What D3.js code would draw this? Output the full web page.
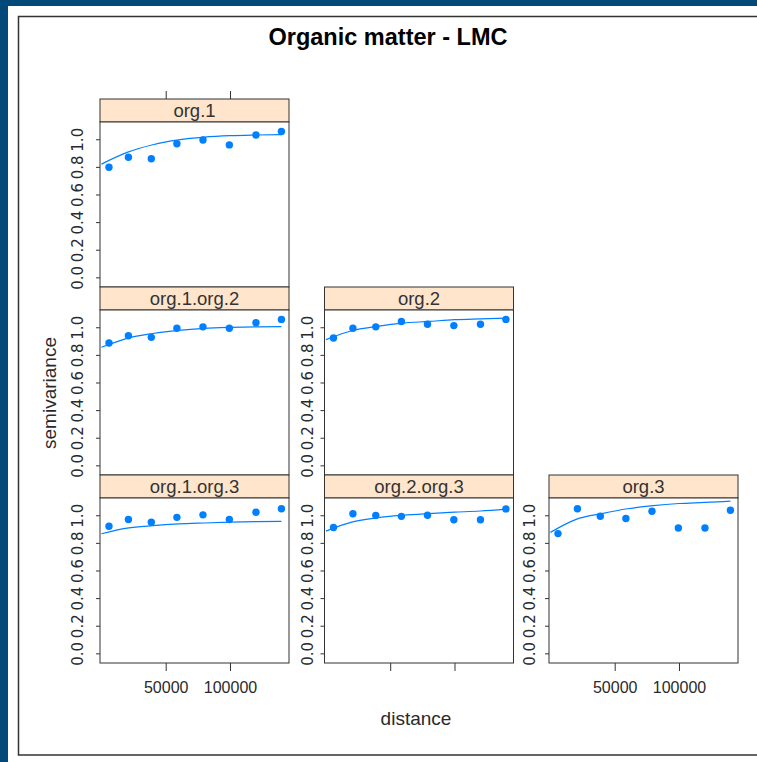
<!DOCTYPE html>
<html>
<head>
<meta charset="utf-8">
<script src="https://cdn.jsdelivr.net/npm/d3@7"></script>
<style>
	body { margin: 0; background: #ffffff; }
	svg { display: block; }
	.strip-label { font-family: 'Liberation Sans', Arial, sans-serif; font-size: 18.5px; fill: #333; }
	.tick-label { font-family: 'Liberation Sans', Arial, sans-serif; font-size: 16px; fill: #2a2a2a; }
	.ytick-label { font-family: 'DejaVu Sans', sans-serif; font-size: 15px; fill: #2a2a2a; }
	.axis-label { font-family: 'Liberation Sans', Arial, sans-serif; font-size: 19px; fill: #2a2a2a; }
	.title { font-family: 'Liberation Sans', Arial, sans-serif; font-size: 23.5px; font-weight: bold; fill: #000; }
</style>
</head>
<body>
<svg width="757" height="762"></svg>
<script>
// sample variogram (binned distances shared by all panels)
const distances = [5900, 21000, 38800, 58700, 79000, 99500, 120200, 140000];
const gammaOrg1 = [0.797, 0.870, 0.859, 0.968, 0.995, 0.959, 1.031, 1.056];
const gammaOrg1Org2 = [0.886, 0.939, 0.927, 0.993, 1.003, 0.993, 1.033, 1.057];
const gammaOrg2 = [0.922, 0.993, 1.003, 1.042, 1.022, 1.012, 1.022, 1.057];
const gammaOrg1Org3 = [0.920, 0.969, 0.949, 0.985, 1.003, 0.969, 1.022, 1.047];
const gammaOrg2Org3 = [0.911, 1.011, 0.999, 0.992, 1.000, 0.968, 0.968, 1.046];
const gammaOrg3 = [0.867, 1.047, 0.993, 0.976, 1.029, 0.908, 0.908, 1.036];

// fitted model
const modelDistances = [0, 20000, 40000, 60000, 80000, 100000, 120000, 140000];
const modelOrg1 = [0.82, 0.905, 0.96, 0.995, 1.015, 1.026, 1.031, 1.034];
const modelOrg1Org2 = [0.855, 0.92, 0.955, 0.978, 0.992, 0.999, 1.003, 1.005];
const modelOrg2 = [0.91, 0.975, 1.007, 1.03, 1.042, 1.055, 1.061, 1.066];
const modelOrg1Org3 = [0.866, 0.907, 0.925, 0.937, 0.944, 0.95, 0.954, 0.956];
const modelOrg2Org3 = [0.885, 0.95, 0.982, 1.0, 1.012, 1.022, 1.031, 1.045];
const modelOrg3 = [0.876, 0.97, 1.012, 1.047, 1.07, 1.085, 1.093, 1.102];

const panelNames = ['org.1', 'org.1.org.2', 'org.2', 'org.1.org.3', 'org.2.org.3', 'org.3'];
const gammaSets = [gammaOrg1, gammaOrg1Org2, gammaOrg2, gammaOrg1Org3, gammaOrg2Org3, gammaOrg3];
const modelSets = [modelOrg1, modelOrg1Org2, modelOrg2, modelOrg1Org3, modelOrg2Org3, modelOrg3];

const yTicks = [0, 0.2, 0.4, 0.6, 0.8, 1.0];
const xTicks = [50000, 100000];

const svg = d3.select('svg');
const width = +svg.attr('width');
const height = +svg.attr('height');

const blue = '#0080ff';
const ink = '#333';

// window frame
svg.append('rect').attr('width', width).attr('height', height).attr('fill', '#02497a');
svg.append('rect').attr('x', 8).attr('y', 6).attr('width', width - 8).attr('height', height - 6).attr('fill', '#fff');
svg.append('rect')
	.attr('x', 18.5).attr('y', 16.5)
	.attr('width', width).attr('height', 738.5)
	.attr('fill', 'none').attr('stroke', ink).attr('stroke-width', 1.5);

svg.append('text')
	.attr('class', 'title')
	.attr('x', 388).attr('y', 45)
	.attr('text-anchor', 'middle')
	.text('Organic matter - LMC');

// panel layout: [row, col]
const grid = {
	'org.1': [0, 0],
	'org.1.org.2': [1, 0],
	'org.2': [1, 1],
	'org.1.org.3': [2, 0],
	'org.2.org.3': [2, 1],
	'org.3': [2, 2],
};
const colLeft = [100, 324.5, 549];
const rowTop = [99, 287, 475];
const panelW = 189;
const stripH = 23;
const plotH = 165;
const labelOffset = [17, 12, 14];

const xScale = d3.scaleLinear().domain([-1100, 145900]).range([0, panelW]);
const yScale = d3.scaleLinear().domain([-0.07, 1.125]).range([plotH, 0]);

const lineGenerator = d3.line()
	.x(d => xScale(d[0]))
	.y(d => yScale(d[1]))
	.curve(d3.curveMonotoneX);

const panels = panelNames.map((name, i) => ({
	name,
	row: grid[name][0],
	col: grid[name][1],
	points: distances.map((d, j) => [d, gammaSets[i][j]]),
	model: modelDistances.map((d, j) => [d, modelSets[i][j]]),
}));

const styleAxis = g => {
	g.select('.domain').remove();
	g.selectAll('.tick line').attr('stroke', ink);
	g.selectAll('.tick text').attr('class', 'tick-label').attr('fill', null);
};

panels.forEach(p => {
	const g = svg.append('g').attr('transform', `translate(${colLeft[p.col]},${rowTop[p.row]})`);

	// strip
	g.append('rect')
		.attr('width', panelW).attr('height', stripH)
		.attr('fill', '#ffe5cc').attr('stroke', ink);
	g.append('text')
		.attr('class', 'strip-label')
		.attr('x', panelW / 2).attr('y', 18)
		.attr('text-anchor', 'middle')
		.text(p.name);

	const plot = g.append('g').attr('transform', `translate(0,${stripH})`);
	plot.append('rect')
		.attr('width', panelW).attr('height', plotH)
		.attr('fill', '#fff').attr('stroke', ink);

	// y axis, labels rotated
	const yAxisG = plot.append('g')
		.call(d3.axisLeft(yScale).tickValues(yTicks).tickSize(4).tickFormat(d3.format('.1f')))
		.call(styleAxis);
	yAxisG.selectAll('.tick text')
		.attr('class', 'ytick-label')
		.attr('x', 0).attr('y', 0).attr('dy', 0)
		.attr('text-anchor', 'middle')
		.attr('transform', `translate(${-labelOffset[p.col]},0) rotate(-90)`);

	// bottom axis on last row
	if (p.row === 2) {
		const showLabels = p.col !== 1;
		plot.append('g')
			.attr('transform', `translate(0,${plotH})`)
			.call(d3.axisBottom(xScale).tickValues(xTicks).tickSize(8).tickPadding(11)
				.tickFormat(showLabels ? d3.format('d') : ''))
			.call(styleAxis);
	}
	// top ticks above the first strip
	if (p.row === 0) {
		g.append('g')
			.call(d3.axisTop(xScale).tickValues(xTicks).tickSize(8).tickFormat(''))
			.call(styleAxis);
	}

	plot.append('path')
		.attr('d', lineGenerator(p.model))
		.attr('fill', 'none')
		.attr('stroke', blue)
		.attr('stroke-width', 1.2);

	plot.selectAll('.pt')
		.data(p.points)
		.enter()
		.append('circle')
		.attr('class', 'pt')
		.attr('cx', d => xScale(d[0]))
		.attr('cy', d => yScale(d[1]))
		.attr('r', 3.7)
		.attr('fill', blue);
});

svg.append('text')
	.attr('class', 'axis-label')
	.attr('text-anchor', 'middle')
	.attr('transform', 'translate(56,393) rotate(-90)')
	.text('semivariance');

svg.append('text')
	.attr('class', 'axis-label')
	.attr('text-anchor', 'middle')
	.attr('x', 416).attr('y', 725)
	.text('distance');
</script>
</body>
</html>
